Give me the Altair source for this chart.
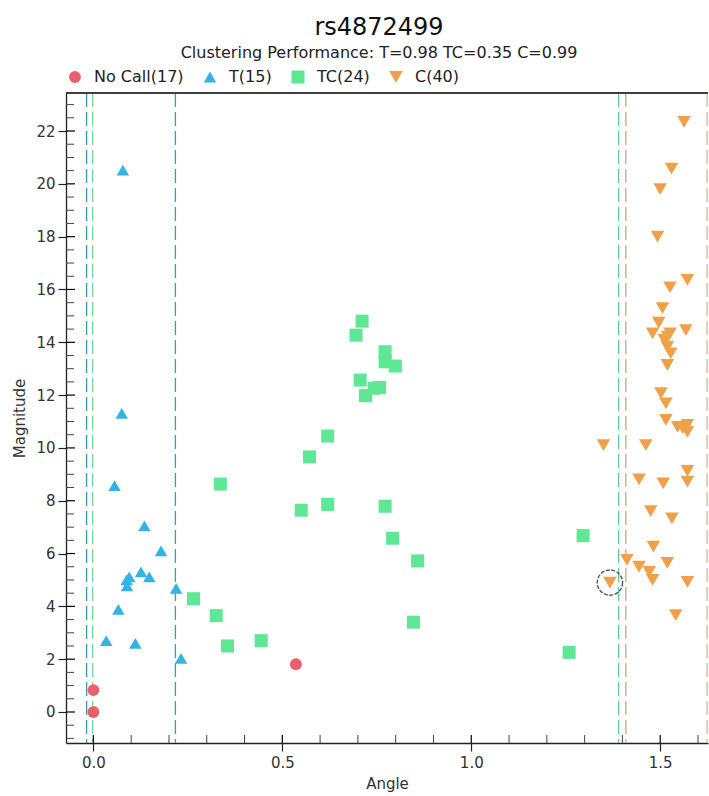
import altair as alt
import pandas as pd

# ---------------- data ----------------
categories = ["No Call", "T", "TC", "C"]
counts = [17, 15, 24, 40]
colors = ["#E8606B", "#33B4E4", "#5EE896", "#F1A04A"]
shapes = ["circle", "triangle-up", "square", "triangle-down"]
sizes = [140, 185, 120, 185]

nocall_x = [0.0, 0.0, 0.536]
nocall_y = [0.0, 0.83, 1.81]

t_x = [0.078, 0.075, 0.056, 0.135, 0.179, 0.126, 0.148, 0.095, 0.088, 0.089,
       0.219, 0.066, 0.034, 0.111, 0.232]
t_y = [20.52, 11.31, 8.57, 7.05, 6.10, 5.31, 5.12, 5.12, 5.00, 4.78,
       4.68, 3.89, 2.70, 2.60, 2.03]

tc_x = [0.711, 0.695, 0.772, 0.772, 0.799, 0.706, 0.757, 0.743, 0.720, 0.620,
        0.572, 0.620, 0.550, 0.772, 0.792, 0.858, 0.847, 0.444, 0.336, 0.265,
        0.325, 0.355, 1.296, 1.259]
tc_y = [14.80, 14.27, 13.64, 13.26, 13.10, 12.57, 12.29, 12.26, 11.98, 10.45,
        9.66, 7.86, 7.64, 7.79, 6.58, 5.72, 3.40, 2.70, 8.63, 4.29,
        3.65, 2.50, 6.68, 2.26]

c_x = [1.563, 1.530, 1.500, 1.493, 1.572, 1.526, 1.506, 1.496, 1.480, 1.568,
       1.526, 1.511, 1.519, 1.528, 1.519, 1.502, 1.515, 1.515, 1.546, 1.572,
       1.572, 1.350, 1.462, 1.572, 1.572, 1.444, 1.508, 1.475, 1.531, 1.482,
       1.412, 1.444, 1.519, 1.471, 1.480, 1.572, 1.367, 1.541, 1.520, 1.560]
c_y = [22.35, 20.58, 19.80, 18.00, 16.36, 16.08, 15.29, 14.74, 14.34, 14.46,
       14.34, 14.09, 13.83, 13.58, 13.14, 12.07, 11.69, 11.06, 10.80, 10.87,
       10.61, 10.11, 10.11, 9.13, 8.72, 8.81, 8.66, 7.61, 7.33, 6.26,
       5.76, 5.50, 5.65, 5.31, 5.00, 4.93, 4.90, 3.67, 14.20, 10.75]

# cluster boundary lines
bound_x = [-0.018, 0.217, -0.002, 1.390, 1.409, 1.624]
bound_color = ["#3F93A8", "#3F9FA8", "#6FD99E", "#5CC9A0", "#D2A27E", "#E0B48C"]

# highlighted point
hl_x = [1.367]
hl_y = [4.90]

# axis ticks
x_major = [0.0, 0.5, 1.0, 1.5]
x_minor = [0.1, 0.2, 0.3, 0.4, 0.6, 0.7, 0.8, 0.9, 1.1, 1.2, 1.3, 1.4, 1.6]
y_major = [0, 2, 4, 6, 8, 10, 12, 14, 16, 18, 20, 22]
y_minor = [-1.0, -0.5, 0.5, 1.0, 1.5, 2.5, 3.0, 3.5, 4.5, 5.0, 5.5, 6.5, 7.0, 7.5,
           8.5, 9.0, 9.5, 10.5, 11.0, 11.5, 12.5, 13.0, 13.5, 14.5, 15.0, 15.5,
           16.5, 17.0, 17.5, 18.5, 19.0, 19.5, 20.5, 21.0, 21.5, 22.5, 23.0]

# ---------------- build tables ----------------
labels = [f"{c}({n})" for c, n in zip(categories, counts)]
rows = []
for lab, xs, ys in zip(labels, [nocall_x, t_x, tc_x, c_x], [nocall_y, t_y, tc_y, c_y]):
    for a, m in zip(xs, ys):
        rows.append({"Angle": a, "Magnitude": m, "call": lab})
pts = pd.DataFrame(rows)

bounds = pd.DataFrame({"x": bound_x, "col": bound_color})
hl = pd.DataFrame({"x": hl_x, "y": hl_y})
xmaj = pd.DataFrame({"v": x_major})
xmin = pd.DataFrame({"v": x_minor})
ymaj = pd.DataFrame({"v": y_major})
ymin = pd.DataFrame({"v": y_minor})

W, H = 642, 650
XD = [-0.0725, 1.6265]
YD = [-1.174, 23.44]
FONT = "DejaVu Sans"

xscale = alt.Scale(domain=XD, nice=False, zero=False)
yscale = alt.Scale(domain=YD, nice=False, zero=False)

xaxis = alt.Axis(values=x_major, format=".1f", title="Angle", tickSize=8,
                 labelPadding=4, titlePadding=6, grid=False)
yaxis = alt.Axis(values=y_major, format="d", title="Magnitude", tickSize=8,
                 labelPadding=3, titlePadding=8, grid=False)

lines = alt.Chart(bounds).mark_rule(strokeWidth=1.3, strokeDash=[14, 5], clip=True).encode(
    x=alt.X("x:Q", scale=xscale, axis=xaxis),
    stroke=alt.Stroke("col:N", scale=None),
)

points = alt.Chart(pts).mark_point(filled=True, opacity=1, clip=True).encode(
    x=alt.X("Angle:Q", scale=xscale, axis=xaxis),
    y=alt.Y("Magnitude:Q", scale=yscale, axis=yaxis),
    color=alt.Color("call:N", scale=alt.Scale(domain=labels, range=colors),
                    legend=alt.Legend(title=None, orient="none", direction="horizontal",
                                      legendX=1, legendY=-24, symbolSize=140,
                                      labelFont=FONT, labelFontSize=16, labelColor="#222",
                                      labelOffset=11, columnPadding=18, padding=0,
                                      symbolStrokeWidth=0, symbolOpacity=1)),
    shape=alt.Shape("call:N", scale=alt.Scale(domain=labels, range=shapes)),
    size=alt.Size("call:N", scale=alt.Scale(domain=labels, range=sizes), legend=None),
)

circle = alt.Chart(hl).mark_point(shape="circle", size=640, filled=False, stroke="#111",
                                  strokeWidth=1.4, strokeDash=[4, 1.5]).encode(
    x=alt.X("x:Q", scale=xscale),
    y=alt.Y("y:Q", scale=yscale),
)

xmaj_in = alt.Chart(xmaj).mark_rule(color="black", strokeWidth=1.2).encode(
    x=alt.X("v:Q", scale=xscale), y=alt.value(H - 8), y2=alt.value(H))
xmin_in = alt.Chart(xmin).mark_rule(color="#444", strokeWidth=1).encode(
    x=alt.X("v:Q", scale=xscale), y=alt.value(H - 8), y2=alt.value(H))
ymaj_in = alt.Chart(ymaj).mark_rule(color="black", strokeWidth=1.2).encode(
    y=alt.Y("v:Q", scale=yscale), x=alt.value(0), x2=alt.value(9))
ymin_in = alt.Chart(ymin).mark_rule(color="#444", strokeWidth=1).encode(
    y=alt.Y("v:Q", scale=yscale), x=alt.value(0), x2=alt.value(8))
topline = alt.Chart(xmaj).mark_rule(color="#333", strokeWidth=1.2).encode(
    x=alt.value(0), x2=alt.value(W), y=alt.value(0))

chart = alt.layer(
    lines, xmin_in, xmaj_in, ymin_in, ymaj_in, topline, points, circle
).properties(
    width=W, height=H,
    title=alt.Title("rs4872499",
                    subtitle="Clustering Performance: T=0.98 TC=0.35 C=0.99",
                    font=FONT, fontSize=24, fontWeight="normal", color="#111",
                    subtitleFont=FONT, subtitleFontSize=16, subtitleColor="#222",
                    subtitlePadding=5, anchor="middle", dx=-8, offset=8),
    autosize=alt.AutoSizeParams(type="none"),
    padding={"left": 66, "top": 93, "right": 1, "bottom": 53},
).configure_view(
    stroke=None
).configure_axis(
    domainColor="#222", domainWidth=1.3, tickColor="#222", tickWidth=1.2,
    labelFont=FONT, labelFontSize=15, labelColor="#333",
    titleFont=FONT, titleFontSize=15, titleColor="#333", titleFontWeight="normal",
)

chart.save("out.html", embed_options={"renderer": "svg", "actions": False})
